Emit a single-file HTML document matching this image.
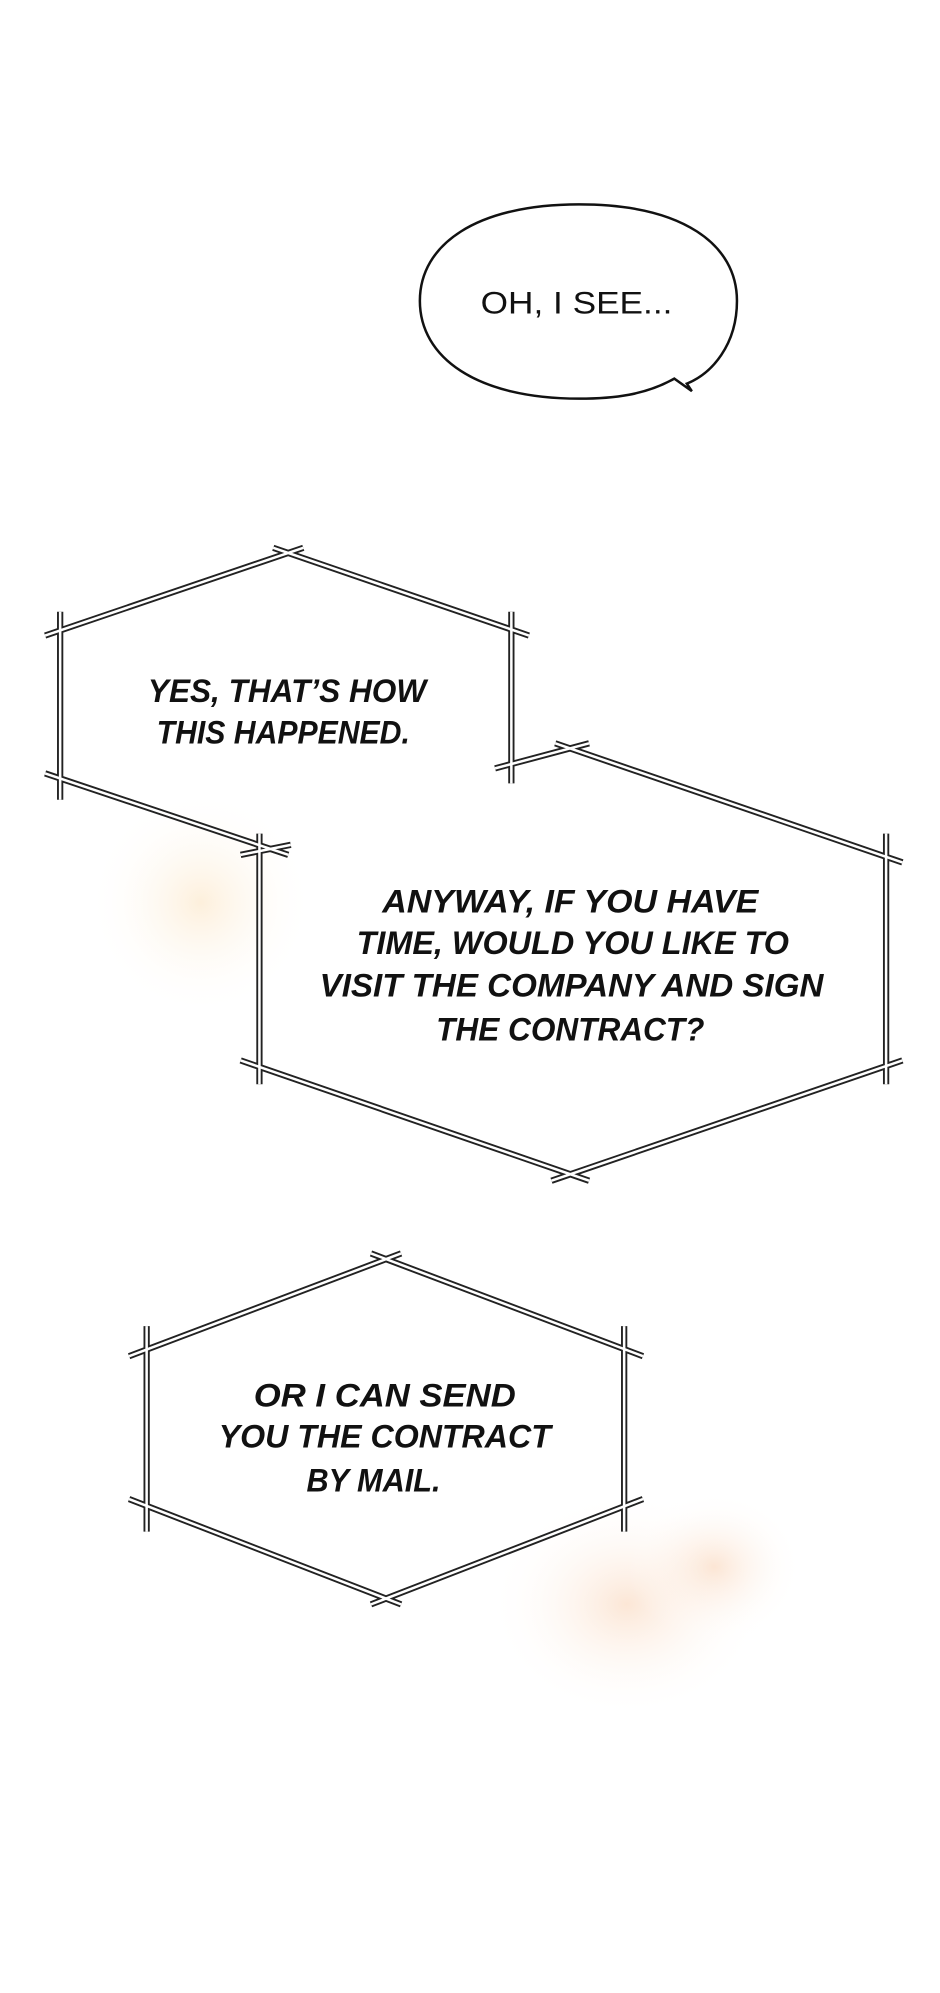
<!DOCTYPE html>
<html><head><meta charset="utf-8"><style>
html,body{margin:0;padding:0;background:#fff;}
svg{display:block;}
text{font-family:"Liberation Sans",sans-serif;font-style:italic;font-weight:bold;font-size:26px;fill:#111;text-anchor:middle;}
</style></head><body>
<svg width="940" height="1993" viewBox="0 0 750 1590" xmlns="http://www.w3.org/2000/svg">
<defs>
<radialGradient id="g1"><stop offset="0" stop-color="#fbe0b8" stop-opacity="0.5"/><stop offset="1" stop-color="#fff" stop-opacity="0"/></radialGradient>
<radialGradient id="g2"><stop offset="0" stop-color="#f9d2b4" stop-opacity="0.55"/><stop offset="1" stop-color="#fff" stop-opacity="0"/></radialGradient>
</defs>
<rect width="750" height="1590" fill="#fff"/>
<ellipse cx="160" cy="720" rx="90" ry="90" fill="url(#g1)"/>
<ellipse cx="500" cy="1280" rx="110" ry="90" fill="url(#g2)"/>
<ellipse cx="570" cy="1250" rx="70" ry="60" fill="url(#g2)"/>

<path d="M462,163 C545,163 588,195 588,240 C588,275 568,298 548,306 L552,312 L538,302 C515,315 490,318 462,318 C380,318 335,285 335,240 C335,195 380,163 462,163 Z" fill="#fff" stroke="#111" stroke-width="2"/>
<text x="460" y="250" style="font-style:normal;font-weight:normal;font-size:25px" textLength="153" lengthAdjust="spacingAndGlyphs">OH, I SEE...</text>

<g fill="none" stroke-linecap="butt">
<g stroke="#222" stroke-width="5">
<path d="M36,507 L242,437 M218,437 L422,507 M48,488 L48,638 M408,488 L408,625 M36,617 L230,682 M395,613 L470,593"/>
<path d="M443,593 L720,688 M207,665 L207,865 M707,665 L707,865 M192,846 L470,942 M440,942 L720,846 M192,682 L232,674"/>
<path d="M103,1082 L320,1000 M296,1000 L513,1082 M117,1058 L117,1222 M498,1058 L498,1222 M103,1196 L320,1280 M296,1280 L513,1196"/>
</g>
<g stroke="#fff" stroke-width="2">
<path d="M36,507 L242,437 M218,437 L422,507 M48,488 L48,638 M408,488 L408,625 M36,617 L230,682 M395,613 L470,593"/>
<path d="M443,593 L720,688 M207,665 L207,865 M707,665 L707,865 M192,846 L470,942 M440,942 L720,846 M192,682 L232,674"/>
<path d="M103,1082 L320,1000 M296,1000 L513,1082 M117,1058 L117,1222 M498,1058 L498,1222 M103,1196 L320,1280 M296,1280 L513,1196"/>
</g>
</g>

<text x="229" y="560" textLength="222" lengthAdjust="spacingAndGlyphs">YES, THAT’S HOW</text>
<text x="226" y="593" textLength="202" lengthAdjust="spacingAndGlyphs">THIS HAPPENED.</text>

<text x="455" y="728" textLength="300" lengthAdjust="spacingAndGlyphs">ANYWAY, IF YOU HAVE</text>
<text x="457" y="761" textLength="345" lengthAdjust="spacingAndGlyphs">TIME, WOULD YOU LIKE TO</text>
<text x="456" y="795" textLength="402" lengthAdjust="spacingAndGlyphs">VISIT THE COMPANY AND SIGN</text>
<text x="455" y="830" textLength="214" lengthAdjust="spacingAndGlyphs">THE CONTRACT?</text>

<text x="307" y="1122" textLength="209" lengthAdjust="spacingAndGlyphs">OR I CAN SEND</text>
<text x="307" y="1155" textLength="265" lengthAdjust="spacingAndGlyphs">YOU THE CONTRACT</text>
<text x="298" y="1190" textLength="107" lengthAdjust="spacingAndGlyphs">BY MAIL.</text>
</svg>
</body></html>
